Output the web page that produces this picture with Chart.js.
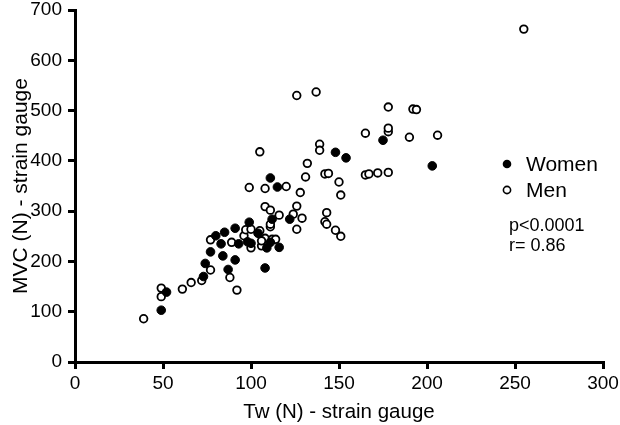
<!DOCTYPE html>
<html>
<head>
<meta charset="utf-8">
<script src="https://cdn.jsdelivr.net/npm/chart.js@4"></script>
<style>
  body { margin: 0; background: #fff; }
  #wrap { width: 620px; height: 425px; }
</style>
</head>
<body>
<div id="wrap"><canvas id="myChart" width="620" height="425"></canvas></div>
<script>
// values
var womenX = [49, 52, 73, 74, 77, 80, 85, 83, 84, 87, 91, 91, 93, 98, 100, 104, 109, 108, 111, 116, 99, 112, 122, 111, 115, 148, 154, 175, 203];
var womenY = [103, 139, 170, 196, 219, 251, 258, 235, 211, 184, 203, 266, 235, 239, 236, 256, 227, 187, 238, 228, 278, 284, 284, 366, 348, 417, 406, 441, 390];

var menX = [39, 49, 49, 61, 66, 72, 77, 77, 88, 92, 89, 96, 97, 100, 105, 100, 106, 108, 111, 112, 114, 106, 99, 108, 120, 105, 108, 111, 116, 124, 129, 111, 126, 126, 128, 131, 132, 126, 137, 139, 139, 142, 144, 143, 142, 143, 148, 151, 151, 150, 165, 167, 172, 178, 165, 178, 178, 178, 190, 192, 194, 206, 255];
var menY = [86, 130, 147, 145, 158, 162, 183, 243, 168, 143, 238, 251, 263, 264, 261, 227, 231, 246, 269, 244, 244, 241, 347, 345, 349, 418, 309, 302, 292, 294, 286, 274, 264, 310, 337, 368, 395, 530, 537, 433, 421, 374, 375, 297, 279, 274, 262, 250, 332, 358, 372, 374, 376, 377, 455, 458, 465, 507, 447, 503, 502, 451, 662];

var seriesNames = ['Women', 'Men'];
var statLines = ['p<0.0001', 'r= 0.86'];
var xTitle = 'Tw (N) - strain gauge';
var yTitle = 'MVC (N) - strain gauge';

var fontFamily = 'Arial, "Liberation Sans", sans-serif';

function toPoints(xs, ys) {
    return xs.map(function(x, i) { return { x: x, y: ys[i] }; });
}

// legend + stats inside the plot, like the original figure
var legendPlugin = {
    id: 'insideLegend',
    afterDraw: function(chart) {
        var ctx = chart.ctx;
        ctx.save();
        ctx.fillStyle = '#000';
        ctx.textBaseline = 'middle';
        ctx.font = '21px ' + fontFamily;

        // Women marker
        ctx.beginPath();
        ctx.arc(507, 164, 4.3, 0, Math.PI * 2);
        ctx.fill();
        ctx.fillText(seriesNames[0], 526, 165);

        // Men marker
        ctx.beginPath();
        ctx.arc(507, 190, 3.6, 0, Math.PI * 2);
        ctx.fillStyle = '#fff';
        ctx.fill();
        ctx.lineWidth = 1.6;
        ctx.strokeStyle = '#000';
        ctx.stroke();
        ctx.fillStyle = '#000';
        ctx.fillText(seriesNames[1], 526, 191);

        ctx.font = '18px ' + fontFamily;
        ctx.fillText(statLines[0], 509, 226);
        ctx.fillText(statLines[1], 509, 246);
        ctx.restore();
    }
};

var context = document.getElementById('myChart').getContext('2d');
var chart = new Chart(context, {
    type: 'scatter',
    data: {
        datasets: [{
            label: seriesNames[0],
            data: toPoints(womenX, womenY),
            backgroundColor: '#000',
            borderColor: '#000',
            borderWidth: 1,
            pointRadius: 4.3
        }, {
            label: seriesNames[1],
            data: toPoints(menX, menY),
            backgroundColor: '#fff',
            borderColor: '#000',
            borderWidth: 1.8,
            pointRadius: 3.8
        }]
    },
    options: {
        responsive: false,
        animation: false,
        layout: {
            padding: { top: 10, right: 17, left: 0, bottom: 0 }
        },
        plugins: {
            legend: { display: false },
            tooltip: { enabled: false }
        },
        scales: {
            x: {
                type: 'linear',
                min: 0,
                max: 300,
                ticks: {
                    stepSize: 50,
                    color: '#000',
                    padding: 3,
                    maxRotation: 0,
                    font: { family: fontFamily, size: 19 }
                },
                grid: {
                    drawOnChartArea: false,
                    drawTicks: true,
                    tickLength: 7,
                    color: '#000',
                    lineWidth: 3
                },
                border: { color: '#000', width: 3 },
                title: {
                    display: true,
                    text: xTitle,
                    color: '#000',
                    padding: { top: 5, bottom: 0 },
                    font: { family: fontFamily, size: 20.5 }
                },
                afterFit: function(scale) {
                    scale.height = 63;
                    scale.paddingRight = 0;
                }
            },
            y: {
                type: 'linear',
                min: 0,
                max: 700,
                ticks: {
                    stepSize: 100,
                    color: '#000',
                    padding: 6,
                    font: { family: fontFamily, size: 19 }
                },
                grid: {
                    drawOnChartArea: false,
                    drawTicks: true,
                    tickLength: 7,
                    color: '#000',
                    lineWidth: 3
                },
                border: { color: '#000', width: 3 },
                title: {
                    display: true,
                    text: yTitle,
                    color: '#000',
                    padding: { top: 9, bottom: 0 },
                    font: { family: fontFamily, size: 21 }
                },
                afterFit: function(scale) {
                    scale.width = 75;
                    scale.paddingTop = 0;
                    scale.paddingBottom = 0;
                }
            }
        }
    },
    plugins: [legendPlugin]
});
</script>
</body>
</html>
